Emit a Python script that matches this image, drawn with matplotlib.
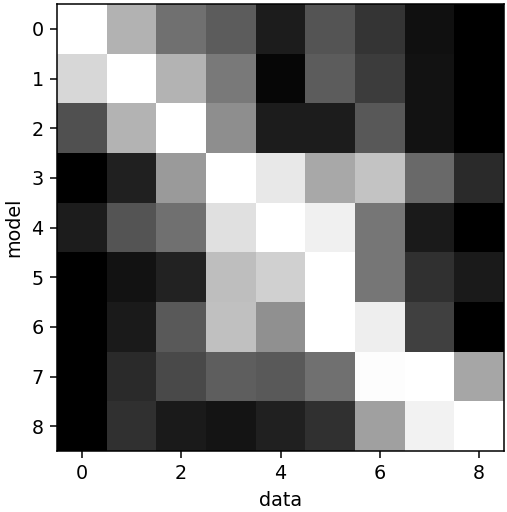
import numpy as np
import matplotlib
matplotlib.use("Agg")
import matplotlib.pyplot as plt

row0 = [255, 178, 112, 92, 28, 84, 52, 16, 0]
row1 = [215, 255, 180, 122, 6, 92, 60, 18, 0]
row2 = [80, 180, 255, 142, 28, 28, 88, 18, 0]
row3 = [0, 32, 154, 255, 232, 168, 195, 105, 42]
row4 = [28, 84, 112, 224, 255, 240, 118, 26, 0]
row5 = [0, 18, 34, 190, 208, 255, 118, 48, 26]
row6 = [0, 26, 90, 192, 144, 255, 238, 64, 0]
row7 = [0, 42, 74, 94, 90, 112, 253, 255, 166]
row8 = [0, 48, 26, 20, 32, 48, 160, 242, 255]

mat = np.array([row0, row1, row2, row3, row4, row5, row6, row7, row8], dtype=float) / 255.0

DPI = 138
fig = plt.figure(figsize=(507 / DPI, 512 / DPI), dpi=DPI)
ax = fig.add_axes([57 / 507, (512 - 452) / 512, 447 / 507, 449 / 512])
ax.imshow(mat, cmap="gray", vmin=0, vmax=1, interpolation="nearest")
ax.set_xlabel("data")
ax.set_ylabel("model")
fig.savefig("out.png", dpi=DPI)
